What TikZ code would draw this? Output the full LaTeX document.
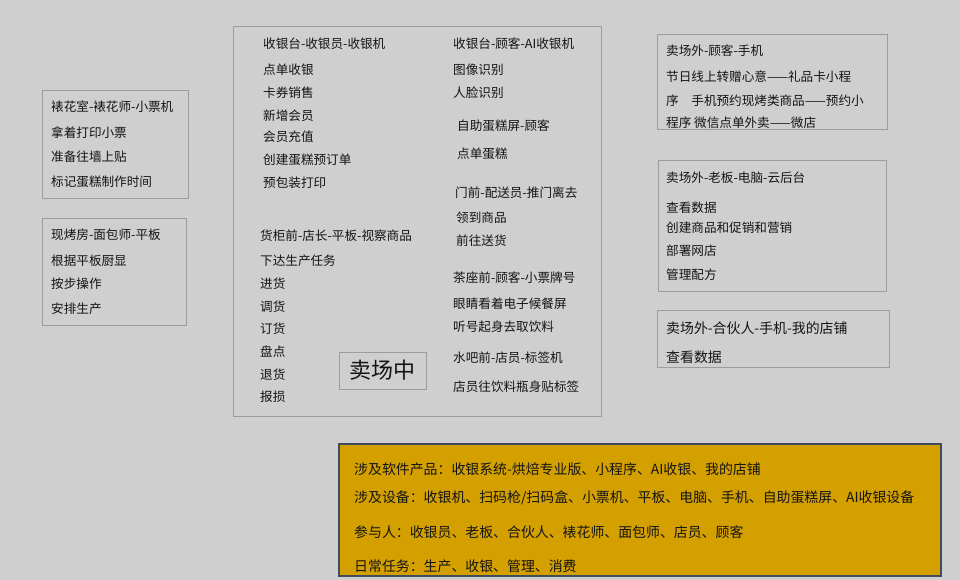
\documentclass[tikz,border=0pt]{standalone}
\usepackage{fontspec}
\setmainfont{Noto Sans CJK SC}
\usetikzlibrary{positioning}
\definecolor{bggray}{HTML}{CFCFCF}
\definecolor{framegray}{HTML}{9C9C9C}
\definecolor{ink}{HTML}{141414}
\definecolor{gold}{HTML}{D4A000}
\definecolor{slate}{HTML}{3E4C5C}

\begin{document}
\begin{tikzpicture}[
    x=1pt, y=-1pt,
    every node/.style={inner sep=0pt, text=ink},
    txt/.style={anchor=west, font=\fontsize{12.6}{15}\selectfont},
    bigtxt/.style={anchor=west, font=\fontsize{13.9}{16}\selectfont},
    frame/.style={draw=framegray, line width=1pt}
]
    \fill[bggray] (0,0) rectangle (960,580);

    % left column
    \draw[frame] (42,91) rectangle (188,198);
    \node[txt] (piping) at (51,107) {裱花室-裱花师-小票机};
    \foreach \y/\t [count=\i] in {133/拿着打印小票, 157/准备往墙上贴, 182/标记蛋糕制作时间}
        \node[txt] (piping\i) at (51,\y) {\t};

    \draw[frame] (42,218) rectangle (186,325);
    \node[txt] (oven) at (51,235) {现烤房-面包师-平板};
    \foreach \y/\t [count=\i] in {261/根据平板厨显, 284/按步操作, 309/安排生产}
        \node[txt] (oven\i) at (51,\y) {\t};

    % shop floor
    \draw[frame] (233,27) rectangle (601,416);
    \node[txt] (cashier) at (263,44) {收银台-收银员-收银机};
    \foreach \y/\t [count=\i] in {70/点单收银, 93/卡券销售, 116/新增会员, 137/会员充值,
                                  160/创建蛋糕预订单, 183/预包装打印}
        \node[txt] (cashier\i) at (263,\y) {\t};
    \node[txt] (shelf) at (260,236) {货柜前-店长-平板-视察商品};
    \foreach \y/\t [count=\i] in {261/下达生产任务, 284/进货, 307/调货, 329/订货,
                                  352/盘点, 375/退货, 397/报损}
        \node[txt] (shelf\i) at (260,\y) {\t};

    \node[txt] (aicash) at (453,44) {收银台-顾客-AI收银机};
    \node[txt] (aicash1) at (453,70) {图像识别};
    \node[txt] (aicash2) at (453,93) {人脸识别};
    \node[txt] (cakescreen) at (457,126) {自助蛋糕屏-顾客};
    \node[txt] (cakescreen1) at (457,154) {点单蛋糕};
    \node[txt] (door) at (455,193) {门前-配送员-推门离去};
    \node[txt] (door1) at (456,218) {领到商品};
    \node[txt] (door2) at (456,241) {前往送货};
    \node[txt] (tea) at (453,278) {茶座前-顾客-小票牌号};
    \node[txt] (tea1) at (453,304) {眼睛看着电子候餐屏};
    \node[txt] (tea2) at (453,327) {听号起身去取饮料};
    \node[txt] (bar) at (453,358) {水吧前-店员-标签机};
    \node[txt] (bar1) at (453,387) {店员往饮料瓶身贴标签};

    \node[draw=framegray, line width=1pt, minimum width=87pt, minimum height=37pt,
          font=\fontsize{22}{24}\selectfont] (hall) at (382.5,370.5) {卖场中};

    % outside the shop
    \draw[frame] (657,35) rectangle (887,130);
    \node[txt] (phone) at (666,51) {卖场外-顾客-手机};
    \foreach \y/\t [count=\i] in {77/节日线上转赠心意——礼品卡小程,
                                  101/序　手机预约现烤类商品——预约小,
                                  123/程序 微信点单外卖——微店}
        \node[txt] (phone\i) at (666,\y) {\t};

    \draw[frame] (658,161) rectangle (886,291);
    \node[txt] (boss) at (666,178) {卖场外-老板-电脑-云后台};
    \foreach \y/\t [count=\i] in {208/查看数据, 228/创建商品和促销和营销, 251/部署网店, 275/管理配方}
        \node[txt] (boss\i) at (666,\y) {\t};

    \draw[frame] (657,310) rectangle (889,367);
    \node[bigtxt] (partner) at (666,328) {卖场外-合伙人-手机-我的店铺};
    \node[bigtxt] (partner1) at (666,357) {查看数据};

    % summary
    \draw[fill=gold, draw=slate, line width=2pt] (339,444) rectangle (941,576);
    \node[bigtxt] (software) at (354,469) {涉及软件产品：收银系统-烘焙专业版、小程序、AI收银、我的店铺};
    \node[bigtxt] (devices) at (354,498) {涉及设备：收银机、扫码枪/扫码盒、小票机、平板、电脑、手机、自助蛋糕屏、AI收银设备};
    \node[bigtxt] (people) at (354,532) {参与人：收银员、老板、合伙人、裱花师、面包师、店员、顾客};
    \node[bigtxt] (tasks) at (354,566) {日常任务：生产、收银、管理、消费};
\end{tikzpicture}
\end{document}
